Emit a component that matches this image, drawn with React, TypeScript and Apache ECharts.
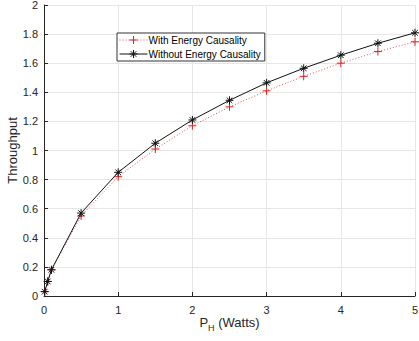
import React, { useEffect, useRef } from "react";
import * as echarts from "echarts";

const xValues = [0.01, 0.05, 0.1, 0.5, 1, 1.5, 2, 2.5, 3, 3.5, 4, 4.5, 5];
const withCausality = [0.03, 0.1, 0.18, 0.55, 0.82, 1.01, 1.17, 1.3, 1.41, 1.51, 1.6, 1.68, 1.747];
const withoutCausality = [0.03, 0.1, 0.18, 0.57, 0.85, 1.05, 1.21, 1.345, 1.465, 1.565, 1.655, 1.737, 1.809];
const seriesNames = ["With Energy Causality", "Without Energy Causality"];

const plusSymbol = "path://M5,0 L5,10 M0,5 L10,5";
const starSymbol = "path://M5,0 L5,10 M0,5 L10,5 M1.5,1.5 L8.5,8.5 M1.5,8.5 L8.5,1.5";

const redColor = "#e02020";
const blackColor = "#111";

export default function App() {
  const ref = useRef<HTMLDivElement>(null);
  useEffect(() => {
    const chart = echarts.init(ref.current!, undefined, { renderer: "svg" });
    const font = "Liberation Sans, Arial, sans-serif";
    chart.setOption({
      animation: false,
      textStyle: { fontFamily: font },
      grid: { left: 44, right: 4, top: 5, bottom: 45, outerBoundsMode: "none", containLabel: false },
      legend: {
        orient: "vertical",
        left: 117,
        top: 33,
        padding: [2, 4, 2, 2],
        itemGap: 4,
        itemWidth: 28,
        itemHeight: 10,
        borderColor: "#333",
        borderWidth: 1,
        backgroundColor: "#fff",
        textStyle: { fontSize: 10, color: "#000", fontFamily: font, padding: [0, 0, 0, -4] },
        data: [
          {
            name: seriesNames[0],
            itemStyle: { color: "rgba(0,0,0,0)", borderColor: redColor, borderWidth: 1 },
            lineStyle: { color: "#e05050", width: 1, type: [1, 2] },
          },
          {
            name: seriesNames[1],
            itemStyle: { color: "rgba(0,0,0,0)", borderColor: blackColor, borderWidth: 1 },
            lineStyle: { color: blackColor, width: 1 },
          },
        ],
      },
      xAxis: {
        type: "value",
        min: 0,
        max: 5,
        interval: 1,
        name: "{p|P}{sub|H}{p| (Watts)}",
        nameLocation: "middle",
        nameGap: 17,
        nameMoveOverlap: false,
        nameTextStyle: {
          rich: {
            p: { fontSize: 13, color: "#262626", fontFamily: font },
            sub: { fontSize: 9, color: "#262626", fontFamily: font, verticalAlign: "bottom", padding: [10, 0, 0, 0] },
          },
        },
        axisLine: { lineStyle: { color: "#262626", width: 1 } },
        axisTick: { inside: true, length: 4, lineStyle: { color: "#262626" } },
        axisLabel: { fontSize: 11, color: "#262626", margin: 8 },
        splitLine: { show: true, lineStyle: { color: "#e6e6e6", width: 1 } },
      },
      yAxis: {
        type: "value",
        min: 0,
        max: 2,
        interval: 0.2,
        name: "Throughput",
        nameLocation: "middle",
        nameGap: 25,
        nameMoveOverlap: false,
        nameTextStyle: { fontSize: 13, color: "#262626" },
        axisLine: { show: true, lineStyle: { color: "#262626", width: 1 } },
        axisTick: { show: true, inside: true, length: 4, lineStyle: { color: "#262626" } },
        axisLabel: { fontSize: 11, lineHeight: 10, color: "#262626", margin: 6 },
        splitLine: { show: true, lineStyle: { color: "#e6e6e6", width: 1 } },
      },
      series: [
        {
          name: seriesNames[0],
          type: "line",
          data: xValues.map((x, i) => [x, withCausality[i]]),
          symbol: plusSymbol,
          symbolSize: 8,
          z: 2,
          lineStyle: { color: "#e05050", width: 1, type: [1, 2] },
          itemStyle: { color: "rgba(0,0,0,0)", borderColor: redColor, borderWidth: 1 },
        },
        {
          name: seriesNames[1],
          type: "line",
          data: xValues.map((x, i) => [x, withoutCausality[i]]),
          symbol: starSymbol,
          symbolSize: 8,
          z: 3,
          lineStyle: { color: blackColor, width: 1 },
          itemStyle: { color: "rgba(0,0,0,0)", borderColor: blackColor, borderWidth: 1 },
        },
      ],
    });
    return () => chart.dispose();
  }, []);
  return <div ref={ref} style={{ width: 419, height: 341, position: "absolute", left: 0, top: 0, background: "#fff" }} />;
}
